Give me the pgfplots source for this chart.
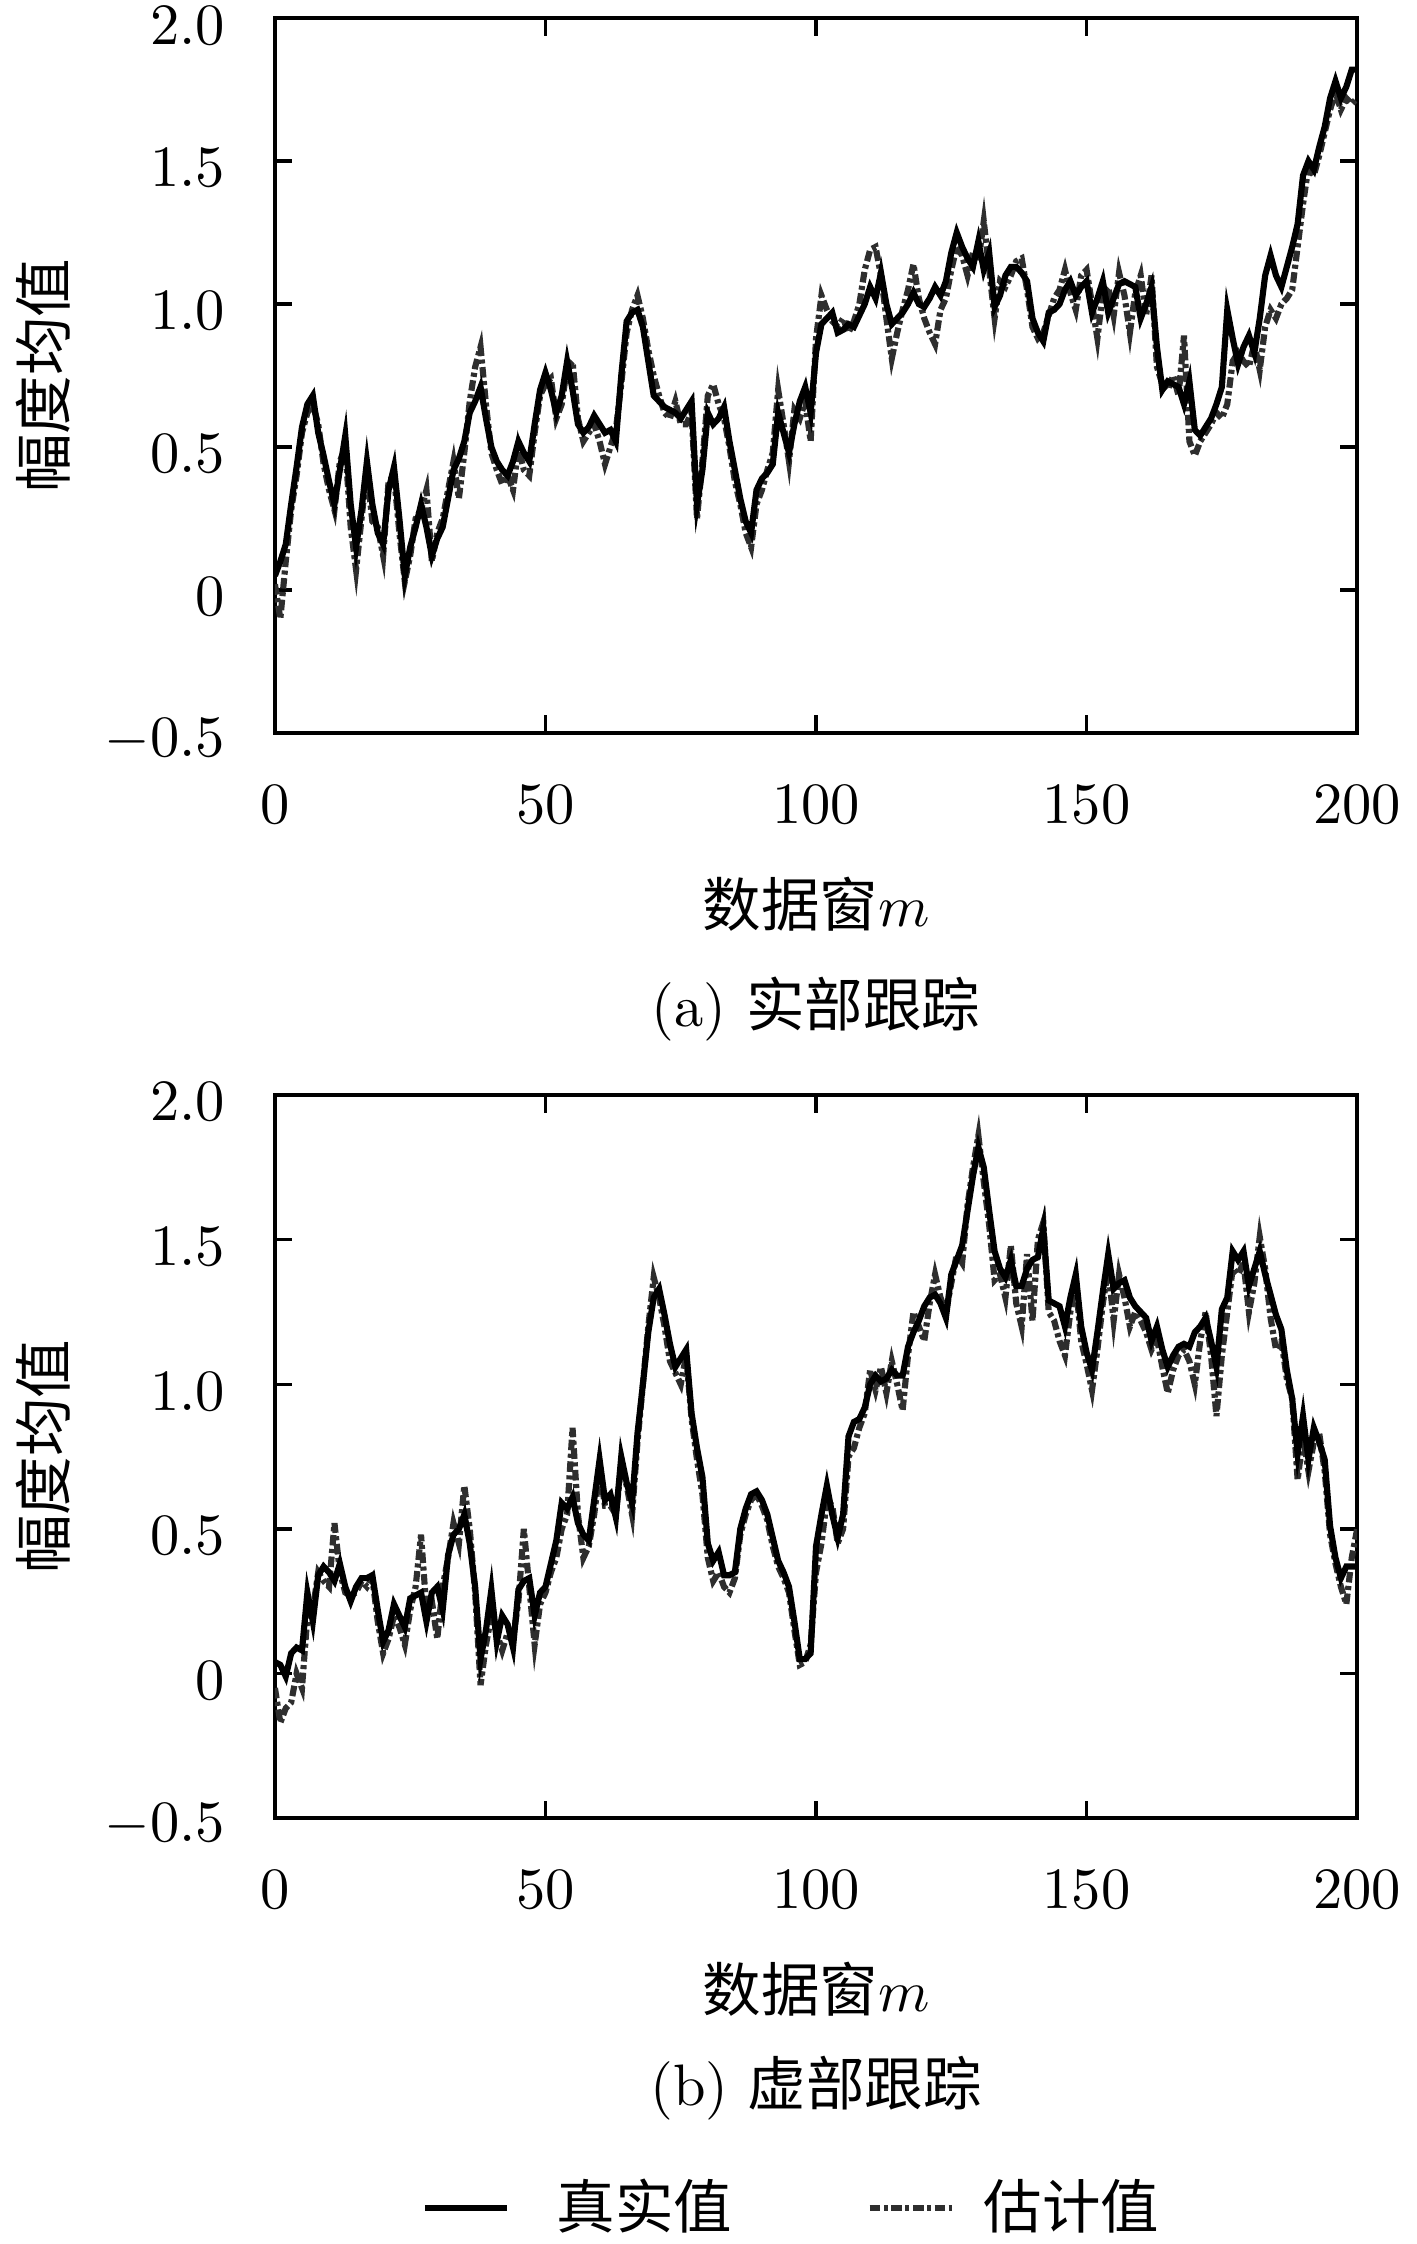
\documentclass[border=0pt]{standalone}
\usepackage{pgfplots}
\pgfplotsset{compat=1.18}
\usepackage{pgfplotstable}
\usepackage{fontspec}
\newfontfamily\cjk{Noto Sans CJK SC}

\pgfplotstableread{
m t e
0 0.05 0.02
1 0.10 -0.10
2 0.16 0.10
3 0.30 0.28
4 0.43 0.40
5 0.57 0.55
6 0.65 0.62
7 0.68 0.65
8 0.55 0.58
9 0.47 0.44
10 0.38 0.35
11 0.30 0.28
12 0.42 0.45
13 0.54 0.50
14 0.30 0.22
15 0.15 0.07
16 0.28 0.25
17 0.45 0.42
18 0.30 0.24
19 0.20 0.22
20 0.16 0.12
21 0.35 0.38
22 0.43 0.40
23 0.25 0.20
24 0.05 0.03
25 0.15 0.12
26 0.22 0.25
27 0.30 0.28
28 0.22 0.35
29 0.12 0.10
30 0.18 0.20
31 0.22 0.25
32 0.32 0.35
33 0.42 0.45
34 0.46 0.32
35 0.52 0.48
36 0.62 0.66
37 0.66 0.78
38 0.71 0.85
39 0.60 0.65
40 0.50 0.48
41 0.45 0.42
42 0.42 0.37
43 0.40 0.40
44 0.45 0.35
45 0.52 0.50
46 0.48 0.42
47 0.45 0.40
48 0.58 0.55
49 0.70 0.68
50 0.76 0.72
51 0.70 0.74
52 0.62 0.60
53 0.68 0.65
54 0.80 0.78
55 0.70 0.80
56 0.58 0.60
57 0.55 0.52
58 0.57 0.55
59 0.61 0.58
60 0.58 0.52
61 0.55 0.44
62 0.56 0.50
63 0.52 0.56
64 0.75 0.72
65 0.94 0.90
66 0.97 0.98
67 0.98 1.03
68 0.92 0.95
69 0.80 0.84
70 0.68 0.75
71 0.66 0.68
72 0.64 0.62
73 0.63 0.60
74 0.62 0.66
75 0.60 0.58
76 0.63 0.58
77 0.66 0.62
78 0.30 0.25
79 0.42 0.45
80 0.62 0.68
81 0.58 0.72
82 0.60 0.65
83 0.64 0.60
84 0.52 0.50
85 0.42 0.38
86 0.32 0.30
87 0.24 0.20
88 0.20 0.15
89 0.35 0.30
90 0.39 0.35
91 0.41 0.42
92 0.44 0.48
93 0.62 0.70
94 0.55 0.58
95 0.48 0.45
96 0.58 0.63
97 0.66 0.60
98 0.71 0.66
99 0.62 0.52
100 0.83 0.88
101 0.93 1.03
102 0.95 0.98
103 0.97 0.94
104 0.90 0.92
105 0.91 0.95
106 0.93 0.90
107 0.92 0.94
108 0.96 1.00
109 1.00 1.12
110 1.06 1.19
111 1.02 1.20
112 1.11 1.10
113 1.00 0.95
114 0.93 0.81
115 0.95 0.90
116 0.97 0.98
117 1.00 1.05
118 1.04 1.14
119 1.00 1.02
120 0.99 0.95
121 1.02 0.90
122 1.06 0.86
123 1.03 0.98
124 1.08 1.02
125 1.18 1.12
126 1.25 1.20
127 1.20 1.17
128 1.16 1.10
129 1.13 1.18
130 1.22 1.15
131 1.12 1.29
132 1.18 1.12
133 0.99 0.95
134 1.03 1.08
135 1.10 1.06
136 1.13 1.10
137 1.13 1.15
138 1.11 1.16
139 1.08 1.05
140 0.95 0.92
141 0.90 0.88
142 0.87 0.90
143 0.97 0.96
144 0.98 1.02
145 1.00 1.05
146 1.05 1.12
147 1.08 1.04
148 1.03 0.98
149 1.06 1.10
150 1.08 1.12
151 0.97 1.00
152 1.02 0.88
153 1.08 1.04
154 0.97 1.06
155 1.02 0.96
156 1.07 1.11
157 1.08 1.03
158 1.07 0.90
159 1.06 1.04
160 0.95 1.10
161 1.00 0.96
162 1.06 1.10
163 0.85 0.78
164 0.70 0.72
165 0.73 0.70
166 0.72 0.75
167 0.71 0.68
168 0.65 0.89
169 0.73 0.52
170 0.56 0.47
171 0.54 0.52
172 0.57 0.55
173 0.60 0.58
174 0.65 0.62
175 0.71 0.60
176 0.98 0.65
177 0.88 0.80
178 0.79 0.83
179 0.85 0.80
180 0.89 0.78
181 0.83 0.86
182 0.95 0.77
183 1.10 0.92
184 1.17 0.98
185 1.10 0.95
186 1.06 1.00
187 1.13 1.02
188 1.20 1.05
189 1.28 1.20
190 1.45 1.35
191 1.50 1.48
192 1.47 1.45
193 1.55 1.52
194 1.62 1.60
195 1.72 1.68
196 1.78 1.74
197 1.72 1.68
198 1.76 1.72
199 1.82 1.70
200 1.82 1.72
}\retable

\pgfplotstableread{
m t e
0 0.04 -0.05
1 0.03 -0.17
2 -0.01 -0.12
3 0.07 -0.10
4 0.09 0.00
5 0.08 -0.05
6 0.28 0.20
7 0.18 0.22
8 0.34 0.35
9 0.37 0.32
10 0.35 0.30
11 0.32 0.52
12 0.38 0.35
13 0.30 0.28
14 0.25 0.27
15 0.30 0.28
16 0.33 0.32
17 0.33 0.30
18 0.34 0.33
19 0.22 0.18
20 0.11 0.07
21 0.15 0.12
22 0.24 0.20
23 0.20 0.16
24 0.16 0.10
25 0.26 0.22
26 0.27 0.30
27 0.28 0.48
28 0.18 0.22
29 0.28 0.25
30 0.30 0.12
31 0.22 0.30
32 0.41 0.40
33 0.48 0.52
34 0.50 0.45
35 0.55 0.65
36 0.45 0.50
37 0.30 0.28
38 0.05 -0.04
39 0.15 0.10
40 0.29 0.20
41 0.11 0.14
42 0.20 0.08
43 0.17 0.14
44 0.09 0.12
45 0.29 0.25
46 0.32 0.50
47 0.33 0.30
48 0.20 0.10
49 0.28 0.24
50 0.30 0.28
51 0.38 0.35
52 0.46 0.40
53 0.59 0.50
54 0.57 0.55
55 0.61 0.85
56 0.52 0.55
57 0.48 0.40
58 0.46 0.44
59 0.60 0.55
60 0.74 0.70
61 0.60 0.58
62 0.62 0.58
63 0.54 0.55
64 0.75 0.72
65 0.66 0.65
66 0.59 0.55
67 0.83 0.80
68 1.00 1.00
69 1.18 1.20
70 1.30 1.37
71 1.33 1.30
72 1.24 1.20
73 1.14 1.08
74 1.06 1.04
75 1.09 1.00
76 1.12 1.10
77 0.90 0.88
78 0.78 0.74
79 0.68 0.62
80 0.45 0.40
81 0.39 0.32
82 0.42 0.35
83 0.34 0.30
84 0.34 0.28
85 0.35 0.33
86 0.50 0.48
87 0.57 0.55
88 0.62 0.60
89 0.63 0.62
90 0.60 0.58
91 0.55 0.53
92 0.47 0.44
93 0.39 0.37
94 0.35 0.33
95 0.30 0.28
96 0.18 0.15
97 0.05 0.03
98 0.05 0.04
99 0.07 0.10
100 0.44 0.35
101 0.55 0.45
102 0.65 0.60
103 0.55 0.58
104 0.47 0.45
105 0.55 0.50
106 0.82 0.75
107 0.87 0.78
108 0.88 0.85
109 0.92 0.90
110 1.00 1.05
111 1.03 0.98
112 1.01 1.06
113 1.02 0.97
114 1.05 1.08
115 1.03 1.00
116 1.03 0.91
117 1.13 1.10
118 1.18 1.25
119 1.22 1.20
120 1.27 1.15
121 1.30 1.28
122 1.31 1.38
123 1.28 1.30
124 1.23 1.25
125 1.38 1.35
126 1.43 1.45
127 1.48 1.42
128 1.60 1.62
129 1.72 1.75
130 1.82 1.86
131 1.75 1.70
132 1.60 1.55
133 1.46 1.36
134 1.40 1.38
135 1.37 1.30
136 1.43 1.48
137 1.34 1.28
138 1.34 1.20
139 1.40 1.45
140 1.43 1.22
141 1.44 1.50
142 1.54 1.56
143 1.29 1.25
144 1.28 1.22
145 1.27 1.15
146 1.20 1.10
147 1.30 1.25
148 1.38 1.35
149 1.20 1.15
150 1.11 1.07
151 1.05 0.98
152 1.18 1.12
153 1.32 1.28
154 1.45 1.40
155 1.33 1.22
156 1.35 1.38
157 1.36 1.30
158 1.30 1.20
159 1.27 1.25
160 1.25 1.22
161 1.23 1.18
162 1.15 1.12
163 1.20 1.16
164 1.12 1.06
165 1.06 0.97
166 1.10 1.05
167 1.13 1.10
168 1.14 1.12
169 1.13 1.08
170 1.18 1.00
171 1.20 1.15
172 1.23 1.25
173 1.15 1.10
174 1.06 0.89
175 1.26 1.10
176 1.30 1.25
177 1.46 1.40
178 1.43 1.38
179 1.46 1.42
180 1.34 1.25
181 1.40 1.35
182 1.46 1.51
183 1.38 1.40
184 1.31 1.23
185 1.24 1.12
186 1.19 1.15
187 1.05 1.02
188 0.95 0.95
189 0.76 0.67
190 0.89 0.82
191 0.74 0.70
192 0.85 0.80
193 0.80 0.83
194 0.74 0.70
195 0.51 0.48
196 0.40 0.38
197 0.33 0.30
198 0.37 0.24
199 0.37 0.40
200 0.37 0.50
}\imtable

\pgfplotsset{
  myax/.style={
    scale only axis, width=185pt,
    clip mode=individual,
    xmin=0, xmax=200, ymin=-0.5, ymax=2,
    xtick={0,50,...,200},
    ytick={-0.5,0,0.5,1,1.5,2},
    yticklabels={$-0.5$,$0$,$0.5$,$1.0$,$1.5$,$2.0$},
    tick align=inside,
    major tick length=3pt,
    axis line style={line width=0.7pt},
    every tick/.style={black, line width=0.6pt},
    xticklabel style={yshift=-5.5pt},
    yticklabel style={xshift=-5pt, yshift=-1.2pt},
    ylabel={\cjk 幅度均值},
    xlabel={{\cjk 数据窗}$m$},
    tru/.style={black, line width=1.05pt},
    est/.style={black!82, line width=1.05pt, dash pattern=on 1.8pt off 0.6pt on 0.7pt off 0.6pt},
  }
}

\begin{document}
\begin{tikzpicture}
\useasboundingbox (0,0) rectangle (242.2pt,-383.6pt);
\begin{axis}[myax, height=122.2pt,
  at={(47pt,-125.3pt)}, anchor=south west,
  xlabel style={at={(axis description cs:0.5,-0.239)}, anchor=center},
  ylabel style={at={(axis description cs:-0.2146,0.5)}, anchor=center},
]
\addplot[est] table[x=m,y=e] {\retable};
\addplot[tru] table[x=m,y=t] {\retable};
\node at (axis description cs:0.5,-0.386) {(a) {\cjk 实部跟踪}};
\end{axis}
\begin{axis}[myax, height=123.6pt,
  at={(47pt,-310.8pt)}, anchor=south west,
  xlabel style={at={(axis description cs:0.5,-0.236)}, anchor=center},
  ylabel style={at={(axis description cs:-0.2146,0.5)}, anchor=center},
  legend columns=2,
  legend style={at={(axis description cs:0.49,-0.539)}, anchor=center, draw=none, fill=none,
    /tikz/every even column/.append style={column sep=18pt},
    nodes={inner xsep=5pt}},
  legend image code/.code={\draw[#1] (0pt,0pt) -- (14pt,0pt);},
  reverse legend,
]
\addplot[est] table[x=m,y=e] {\imtable};
\addlegendentry{{\cjk 估计值}}
\addplot[tru] table[x=m,y=t] {\imtable};
\addlegendentry{\hspace{3pt}{\cjk 真实值}}
\node at (axis description cs:0.5,-0.374) {(b) {\cjk 虚部跟踪}};
\end{axis}
\end{tikzpicture}
\end{document}
